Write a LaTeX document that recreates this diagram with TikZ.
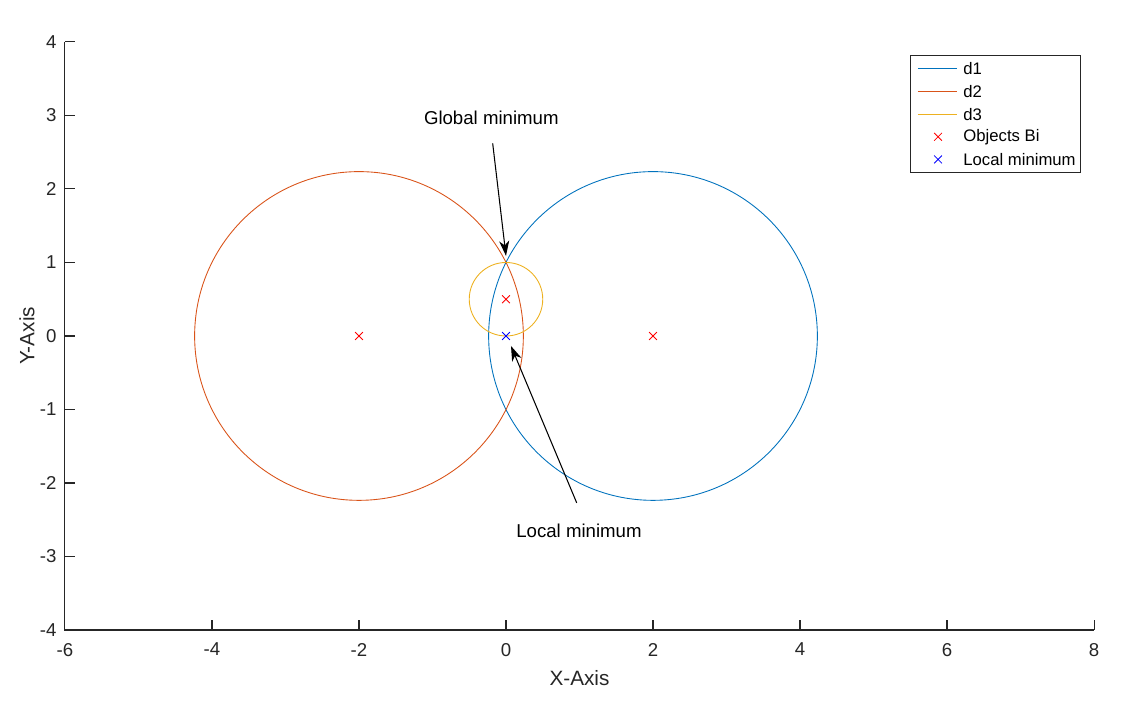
\documentclass[tikz,border=0pt]{standalone}
\usepackage{fontspec}
\setmainfont{Liberation Sans}
\usetikzlibrary{arrows.meta,shapes.misc}

\definecolor{mlblue}{rgb}{0,0.447,0.741}
\definecolor{mlorange}{rgb}{0.85,0.325,0.098}
\definecolor{mlyellow}{rgb}{0.929,0.694,0.125}
\definecolor{axgray}{gray}{0.15}

\tikzset{
  axisline/.style={draw=axgray, line width=0.6pt},
  ticklabel/.style={font=\fontsize{10.6}{12}\selectfont, text=axgray, inner sep=0pt},
  axislabel/.style={font=\fontsize{11.8}{14}\selectfont, text=axgray, inner sep=0pt},
  annotlabel/.style={font=\fontsize{10.6}{12}\selectfont, text=black, inner sep=0pt},
  curve/.style={line width=0.5pt},
  xmark/.style={cross out, draw=#1, line width=0.45pt, minimum size=0.14cm, inner sep=0pt},
  annot/.style={draw=black, line width=0.6pt,
    -{Stealth[length=0.3cm, width=0.2cm, inset=0.09cm]}},
  legtext/.style={font=\fontsize{9.5}{11}\selectfont, anchor=west, inner sep=0pt}
}

\begin{document}
\begin{tikzpicture}[x=1.47cm, y=1.47cm]
\useasboundingbox (-6.884,-5.075) rectangle (8.544,4.571);

% axes (left and bottom only, ticks inside)
\draw[axisline] (-6,4) -- (-6,-4) -- (8,-4);
\foreach \t in {-6,-4,...,8}
  \draw[axisline] (\t,-4) -- ++(0,0.136)
    node[ticklabel, anchor=north, yshift=-0.25cm] at (\t,-4) {\t};
\foreach \t in {-4,...,4}
  \draw[axisline] (-6,\t) -- ++(0.136,0)
    node[ticklabel, anchor=east, xshift=-0.16cm] at (-6,\t) {\t};
\node[axislabel] (xlab) at (1,-4.653) {X-Axis};
\node[axislabel, rotate=90] (ylab) at (-6.517,0) {Y-Axis};

% circles
\draw[curve, mlblue]   (2,0)   circle[radius=2.2361];
\draw[curve, mlorange] (-2,0)  circle[radius=2.2361];
\draw[curve, mlyellow] (0,0.5) circle[radius=0.5];

% markers
\node[xmark=red]  (b1) at (2,0)   {};
\node[xmark=red]  (b2) at (-2,0)  {};
\node[xmark=red]  (b3) at (0,0.5) {};
\node[xmark=blue] (lm) at (0,0)   {};

% annotations
\node[annotlabel] (gtext) at (-0.2,2.97) {Global minimum};
\node[annotlabel] (ltext) at (0.993,-2.646) {Local minimum};
\coordinate (gtail) at (-0.181,2.62);
\coordinate (gtip)  at (0,1.09);
\coordinate (ltail) at (0.962,-2.27);
\coordinate (ltip)  at (0.068,-0.136);
\draw[annot] (gtail) -- (gtip);
\draw[annot] (ltail) -- (ltip);

% legend
\draw[axisline, fill=white, line width=0.5pt] (5.497,3.823) rectangle (7.810,2.231);
\foreach \y/\c/\l in {3.633/mlblue/d1, 3.325/mlorange/d2, 3.018/mlyellow/d3} {
  \draw[curve, \c] (5.605,\y) -- (6.136,\y);
  \node[legtext] at (6.218,\y) {\l};
}
\node[xmark=red]  (legb) at (5.878,2.710) {};
\node[legtext] at (6.218,2.710) {Objects Bi};
\node[xmark=blue] (legl) at (5.878,2.402) {};
\node[legtext] at (6.218,2.402) {Local minimum};
\end{tikzpicture}
\end{document}
